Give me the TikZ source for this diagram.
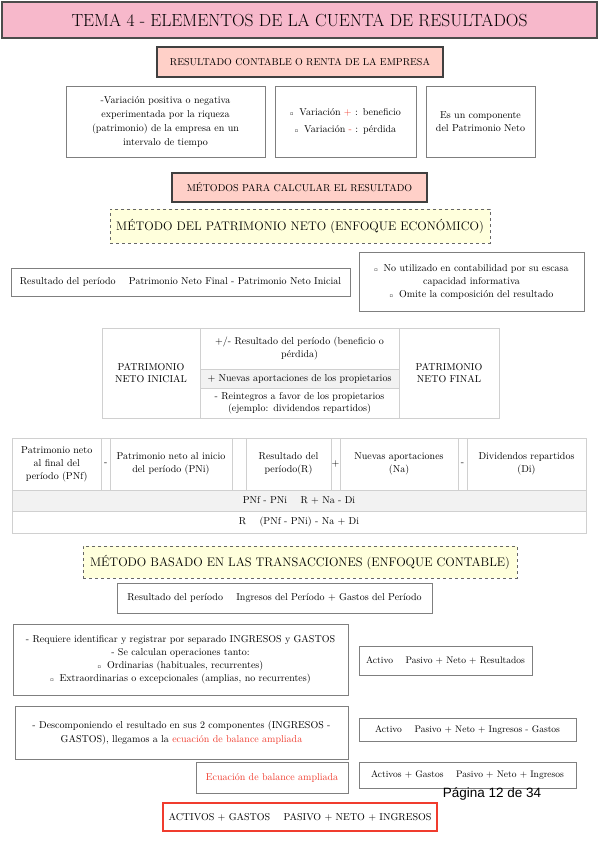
\documentclass[tikz,border=0pt]{standalone}
\usepackage{fontspec}
\newfontfamily\symfont{DejaVu Sans}
\newfontfamily\pagefont{Liberation Sans}
\definecolor{titlepink}{HTML}{F7B8CB}
\definecolor{salmon}{HTML}{FFD0C8}
\definecolor{paleyellow}{HTML}{FFFFDC}
\definecolor{bordergray}{HTML}{7F7F7F}
\definecolor{tablegray}{HTML}{D0D0D0}
\definecolor{rowgray}{HTML}{F2F2F2}
\definecolor{accred}{HTML}{F03C2E}
\newcommand\sqb{{\symfont\fontsize{5}{5}\selectfont ▫}\hspace{6pt}}
\hyphenpenalty=10000
\exhyphenpenalty=10000
\begin{document}
\begin{tikzpicture}[x=1pt,y=-1pt,
 every node/.style={inner sep=0pt, outer sep=0pt, align=center},
 sz/.style 2 args={minimum width=#1pt, minimum height=#2pt},
 box/.style={draw=bordergray, line width=0.9pt, fill=white, font=\fontsize{10}{12.5}\selectfont},
 eqbox/.style={box, font=\fontsize{9.5}{11.5}\selectfont},
 headbox/.style={draw=black!75, line width=1.4pt, fill=salmon, font=\fontsize{10}{12}\selectfont},
 dashbox/.style={draw=black!60, dashed, line width=0.9pt, fill=paleyellow, font=\fontsize{12.4}{14}\selectfont},
 cell/.style={draw=tablegray, line width=0.6pt, font=\fontsize{10}{12}\selectfont}]
\useasboundingbox (0,0) rectangle (599,848);
\fill[white] (0,0) rectangle (599,848);

\node[draw=black!70, line width=1.2pt, fill=titlepink, sz={595}{36}, font=\fontsize{17.5}{20}\selectfont] (title) at (299.5,20) {TEMA 4 - ELEMENTOS DE LA CUENTA DE RESULTADOS};

\node[headbox, sz={286}{30}] (res) at (300,62) {RESULTADO CONTABLE O RENTA DE LA EMPRESA};

\node[box, sz={199}{71}, text width=190pt, font=\fontsize{10}{14}\selectfont] (defa) at (165.5,121.5) {-Variación positiva o negativa\\ experimentada por la riqueza\\ (patrimonio) de la empresa en un\\ intervalo de tiempo};
\node[box, sz={141}{71}, text width=135pt] (defb) at (345.5,121.5) {\sqb Variación {\color{accred}+} : beneficio\\[5pt] \sqb Variación {\color{accred}-} : pérdida};
\node[box, sz={109}{71}, text width=100pt, font=\fontsize{10}{13}\selectfont] (defc) at (480.5,121.5) {Es un componente\\ del Patrimonio Neto};

\node[headbox, sz={255}{29}] (met) at (299.5,187.5) {MÉTODOS PARA CALCULAR EL RESULTADO};

\node[dashbox, sz={380}{34}] (pn) at (300,226) {MÉTODO DEL PATRIMONIO NETO (ENFOQUE ECONÓMICO)};

\node[box, sz={339}{28}] (eq1) at (180.5,282) {Resultado del período \quad Patrimonio Neto Final - Patrimonio Neto Inicial};
\node[box, sz={225}{59}, text width=220pt, font=\fontsize{10}{13}\selectfont] (r1) at (471.5,281.5) {\sqb No utilizado en contabilidad por su escasa\\ capacidad informativa\\ \sqb Omite la composición del resultado};

% table 1
\node[cell, sz={98}{90}, text width=94pt] (t1l) at (151,373) {PATRIMONIO\\ NETO INICIAL};
\node[cell, sz={199}{41}, text width=195pt, font=\fontsize{10}{13}\selectfont] (t1a) at (299.5,348.5) {+/- Resultado del período (beneficio o\\ pérdida)};
\node[cell, fill=rowgray, sz={199}{19}, text width=197pt] (t1b) at (299.5,378.5) {+ Nuevas aportaciones de los propietarios};
\node[cell, sz={199}{30}, text width=197pt] (t1c) at (299.5,403) {- Reintegros a favor de los propietarios\\ (ejemplo: dividendos repartidos)};
\node[cell, sz={100}{90}, text width=96pt] (t1r) at (449,373) {PATRIMONIO\\ NETO FINAL};

% table 2
\node[cell, sz={89.5}{52}, text width=86pt, font=\fontsize{10}{13}\selectfont] (c1) at (56.75,464) {Patrimonio neto\\ al final del\\ período (PNf)};
\node[cell, sz={8.5}{52}] (o1) at (105.75,464) {-};
\node[cell, sz={122}{52}, text width=118pt, font=\fontsize{10}{13}\selectfont] (c2) at (171,464) {Patrimonio neto al inicio\\ del período (PNi)};
\node[cell, sz={14}{52}] (o2) at (239,464) {};
\node[cell, sz={85}{52}, text width=82pt, font=\fontsize{10}{13}\selectfont] (c3) at (288.5,464) {Resultado del\\ período(R)};
\node[cell, sz={9}{52}] (o3) at (335.5,464) {+};
\node[cell, sz={118}{52}, text width=114pt, font=\fontsize{10}{13}\selectfont] (c4) at (399,464) {Nuevas aportaciones\\ (Na)};
\node[cell, sz={9}{52}] (o4) at (462.5,464) {-};
\node[cell, sz={119}{52}, text width=116pt, font=\fontsize{10}{13}\selectfont] (c5) at (526.5,464) {Dividendos repartidos\\ (Di)};
\node[cell, fill=rowgray, sz={574}{21}] (f1) at (299,500.5) {PNf - PNi \quad R + Na - Di};
\node[cell, sz={574}{22}] (f2) at (299,522) {R \quad (PNf - PNi) - Na + Di};

\node[dashbox, sz={434}{32}] (tr) at (300,562) {MÉTODO BASADO EN LAS TRANSACCIONES (ENFOQUE CONTABLE)};

\node[box, sz={315}{30}] (eq2) at (274.5,598) {Resultado del período \quad Ingresos del Período + Gastos del Período};

\node[box, sz={335}{71}, text width=332pt, font=\fontsize{10}{13}\selectfont] (big) at (180.5,659.5) {- Requiere identificar y registrar por separado INGRESOS y GASTOS\\ - Se calculan operaciones tanto:\\ \sqb Ordinarias (habituales, recurrentes)\\ \sqb Extraordinarias o excepcionales (amplias, no recurrentes)};
\node[eqbox, sz={173}{29}] (act1) at (445.5,660.5) {Activo \quad Pasivo + Neto + Resultados};

\node[box, sz={333}{53}, text width=330pt, font=\fontsize{10}{14}\selectfont] (desc) at (181.5,732.5) {- Descomponiendo el resultado en sus 2 componentes (INGRESOS -\\ GASTOS), llegamos a la {\color{accred}ecuación de balance ampliada}};
\node[eqbox, sz={217}{23}] (act2) at (467.5,730) {Activo \quad Pasivo + Neto + Ingresos - Gastos};

\node[box, sz={152}{31}, text=accred] (ecu) at (272,777.5) {Ecuación de balance ampliada};
\node[eqbox, sz={217}{26}] (act3) at (467.5,775) {Activos + Gastos \quad Pasivo + Neto + Ingresos};

\node[font=\pagefont\fontsize{13.5}{15}\selectfont] (page) at (492,794) {Página 12 de 34};

\node[draw=accred, line width=1.4pt, fill=white, sz={274}{28}, font=\fontsize{10}{12}\selectfont] (final) at (300,817) {ACTIVOS + GASTOS \quad PASIVO + NETO + INGRESOS};
\end{tikzpicture}
\end{document}
